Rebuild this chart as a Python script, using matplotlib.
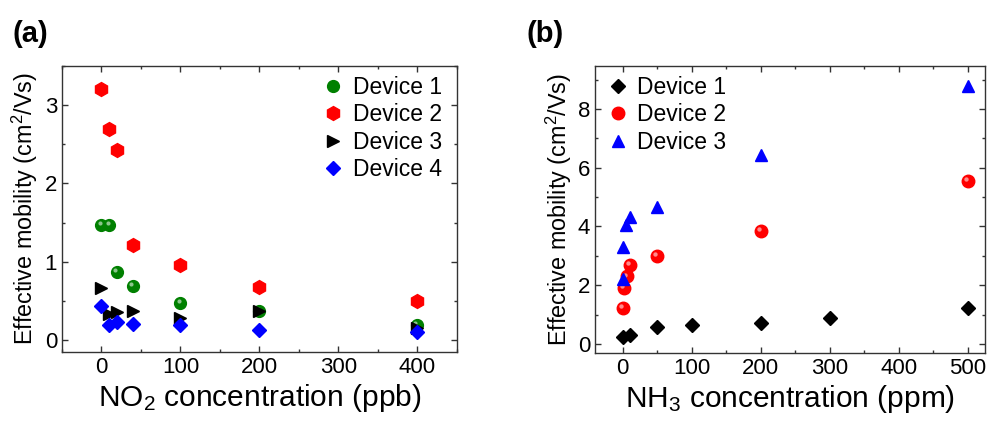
import matplotlib
matplotlib.use("Agg")
import matplotlib.pyplot as plt
from matplotlib.transforms import offset_copy

plt.rcParams['font.family'] = ['Liberation Sans', 'DejaVu Sans']
plt.rcParams['mathtext.fontset'] = 'custom'
plt.rcParams['mathtext.rm'] = 'Liberation Sans'
plt.rcParams['mathtext.it'] = 'Liberation Sans:italic'
plt.rcParams['mathtext.default'] = 'regular'

# (a) NO2, ppb
no2_conc = [0, 10, 20, 40, 100, 200, 400]
no2_dev1 = [1.47, 1.47, 0.87, 0.69, 0.48, 0.37, 0.20]
no2_dev2 = [3.21, 2.69, 2.43, 1.22, 0.96, 0.68, 0.50]
no2_dev3 = [0.66, 0.33, 0.36, 0.37, 0.28, 0.37, 0.16]
no2_dev4 = [0.43, 0.19, 0.23, 0.21, 0.19, 0.13, 0.10]

# (b) NH3, ppm
nh3_conc1 = [0, 10, 50, 100, 200, 300, 500]
nh3_dev1 = [0.24, 0.29, 0.59, 0.64, 0.73, 0.87, 1.22]
nh3_conc2 = [0, 2, 6, 10, 50, 200, 500]
nh3_dev2 = [1.22, 1.91, 2.30, 2.70, 2.99, 3.85, 5.54]
nh3_conc3 = [0, 0, 5, 10, 50, 200, 500]
nh3_dev3 = [2.22, 3.30, 4.05, 4.32, 4.68, 6.45, 8.80]


def ball(ax, x, y, color, label, ms=9):
    # shaded sphere: filled circle plus a small white highlight up-left
    ax.plot(x, y, 'o', color=color, ms=ms, mec=color, label=label, linestyle='none')
    tr = offset_copy(ax.transData, fig=ax.figure, x=-1.3, y=1.3, units='points')
    ax.plot(x, y, 'o', color='white', alpha=0.55, ms=ms * 0.35, mec='none',
            transform=tr, linestyle='none')


def style_axes(ax):
    ax.tick_params(which='both', direction='in', top=True, right=True,
                   labelsize=16, width=1.0, colors='#333333', labelcolor='black')
    ax.tick_params(which='major', length=4)
    ax.tick_params(which='minor', length=2.5)
    for s in ax.spines.values():
        s.set_linewidth(1.0)
        s.set_color('#333333')


fig = plt.figure(figsize=(9.89, 4.22), dpi=100)

ax1 = fig.add_axes([0.0627, 0.166, 0.399, 0.678])
ball(ax1, no2_conc, no2_dev1, 'green', 'Device 1', ms=8.5)
ax1.plot(no2_conc, no2_dev2, 'h', color='red', ms=10, linestyle='none', label='Device 2')
ax1.plot(no2_conc, no2_dev3, '>', color='black', ms=9, linestyle='none', label='Device 3')
ax1.plot(no2_conc, no2_dev4, 'D', color='blue', ms=7.5, linestyle='none', label='Device 4')
ax1.set_xlim(-50, 450)
ax1.set_ylim(-0.15, 3.5)
ax1.set_xticks([0, 100, 200, 300, 400])
ax1.set_xticks([-50, 50, 150, 250, 350, 450], minor=True)
ax1.set_yticks([0, 1, 2, 3])
ax1.set_yticks([0.5, 1.5, 2.5, 3.5], minor=True)
ax1.set_xlabel('NO$_2$ concentration (ppb)', fontsize=21.5, labelpad=3)
ax1.set_ylabel('Effective mobility (cm$^2$/Vs)', fontsize=16.8, labelpad=3)
style_axes(ax1)
ax1.legend(loc='upper right', frameon=False, fontsize=16.5, handletextpad=0.25,
           labelspacing=0.2, borderaxespad=0.25, handlelength=1.2,
           bbox_to_anchor=(1.0, 1.018))

ax2 = fig.add_axes([0.6016, 0.164, 0.3944, 0.68])
ax2.plot(nh3_conc1, nh3_dev1, 'D', color='black', ms=7.5, linestyle='none', label='Device 1')
ball(ax2, nh3_conc2, nh3_dev2, 'red', 'Device 2', ms=9)
ax2.plot(nh3_conc3, nh3_dev3, '^', color='blue', ms=9, linestyle='none', label='Device 3')
ax2.set_xlim(-40, 525)
ax2.set_ylim(-0.3, 9.47)
ax2.set_xticks([0, 100, 200, 300, 400, 500])
ax2.set_xticks([50, 150, 250, 350, 450], minor=True)
ax2.set_yticks([0, 2, 4, 6, 8])
ax2.set_yticks([1, 3, 5, 7, 9], minor=True)
ax2.set_xlabel('NH$_3$ concentration (ppm)', fontsize=21.5, labelpad=3)
ax2.set_ylabel('Effective mobility (cm$^2$/Vs)', fontsize=16.8, labelpad=3)
style_axes(ax2)
ax2.legend(loc='upper left', frameon=False, fontsize=16.5, handletextpad=0.25,
           labelspacing=0.2, borderaxespad=0.25, handlelength=1.2,
           bbox_to_anchor=(-0.015, 1.018))

fig.text(0.013, 0.90, '(a)', fontsize=21, fontweight='bold')
fig.text(0.532, 0.90, '(b)', fontsize=21, fontweight='bold')

fig.savefig('out.png', dpi=100)
